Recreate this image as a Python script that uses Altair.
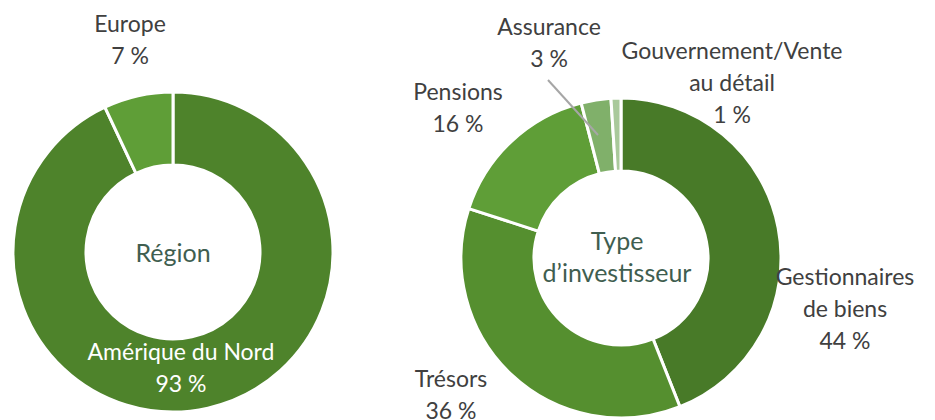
import altair as alt
import pandas as pd

# ---- data ----
region_cats = ["Amérique du Nord", "Europe"]
region_vals = [93, 7]
region_colors = ["#4e832b", "#5f9e37"]
region_label_lines = [["Amérique du Nord"], ["Europe"]]

inv_cats = ["Gestionnaires de biens", "Trésors", "Pensions", "Assurance",
            "Gouvernement/Vente au détail"]
inv_vals = [44, 36, 16, 3, 1]
inv_colors = ["#487a28", "#558f2f", "#5f9e37", "#80b06a", "#a9c99b"]
inv_label_lines = [["Gestionnaires", "de biens"], ["Trésors"], ["Pensions"],
                   ["Assurance"], ["Gouvernement/Vente", "au détail"]]

center_titles = [["Région"], ["Type", "d\u2019investisseur"]]

# ---- layout (pixels) ----
W, H = 935, 420
LEFT_C = (173, 252)
RIGHT_C = (621, 258)
R_OUT, R_IN = 160, 87
FONT = "Lato"
FS = 23
LH = 32
TEXT_COL = "#404040"
CENTER_COL = "#3f5e50"

# label anchor (center x, baseline of first line)
region_label_pos = [(181, 360, "white"), (130, 32, TEXT_COL)]
inv_label_pos = [(845, 285, TEXT_COL), (451, 387, TEXT_COL), (458, 100, TEXT_COL),
                 (549, 35, TEXT_COL), (732, 59, TEXT_COL)]


def donut(cats, vals, colors, center):
    df = pd.DataFrame({"cat": cats, "val": vals, "idx": list(range(len(cats)))})
    return alt.Chart(df).mark_arc(
        innerRadius=R_IN, outerRadius=R_OUT, stroke="white", strokeWidth=3
    ).encode(
        theta=alt.Theta("val:Q", stack=True, scale=alt.Scale(type="linear", range=[0, 6.283185307179586])),
        color=alt.Color("cat:N", scale=alt.Scale(domain=cats, range=colors), legend=None),
        order=alt.Order("idx:Q"),
        x=alt.value(center[0]),
        y=alt.value(center[1]),
    )


def labels(cats, vals, lines_list, positions):
    layers = []
    for cat, v, lines, (x, y, col) in zip(cats, vals, lines_list, positions):
        txt = lines + [f"{v} %"]
        df = pd.DataFrame({"t": ["\n".join(txt)]})
        layers.append(
            alt.Chart(df).mark_text(
                font=FONT, fontSize=FS, lineHeight=LH, lineBreak="\n",
                align="center", baseline="alphabetic", color=col
            ).encode(text="t:N", x=alt.value(x), y=alt.value(y))
        )
    return layers


def center_text(lines, center, y0):
    df = pd.DataFrame({"t": ["\n".join(lines)]})
    return alt.Chart(df).mark_text(
        font=FONT, fontSize=FS + 2, lineHeight=LH, lineBreak="\n",
        align="center", baseline="alphabetic", color=CENTER_COL
    ).encode(text="t:N", x=alt.value(center[0]), y=alt.value(y0))


leader = alt.Chart(pd.DataFrame({"a": [0]})).mark_rule(
    color="#a6a6a6", strokeWidth=2
).encode(x=alt.value(548), y=alt.value(80), x2=alt.value(598), y2=alt.value(135))

layers = [
    donut(region_cats, region_vals, region_colors, LEFT_C),
    donut(inv_cats, inv_vals, inv_colors, RIGHT_C),
    leader,
    center_text(center_titles[0], LEFT_C, 262),
    center_text(center_titles[1], (617, 258), 250),
]
layers += labels(region_cats, region_vals, region_label_lines, region_label_pos)
layers += labels(inv_cats, inv_vals, inv_label_lines, inv_label_pos)

chart = alt.layer(*layers).resolve_scale(color="independent", theta="independent").properties(
    width=W, height=H, padding=0, autosize="none", background="white"
).configure_view(stroke=None)

chart.save("out.html", embed_options={"renderer": "svg", "actions": False})
